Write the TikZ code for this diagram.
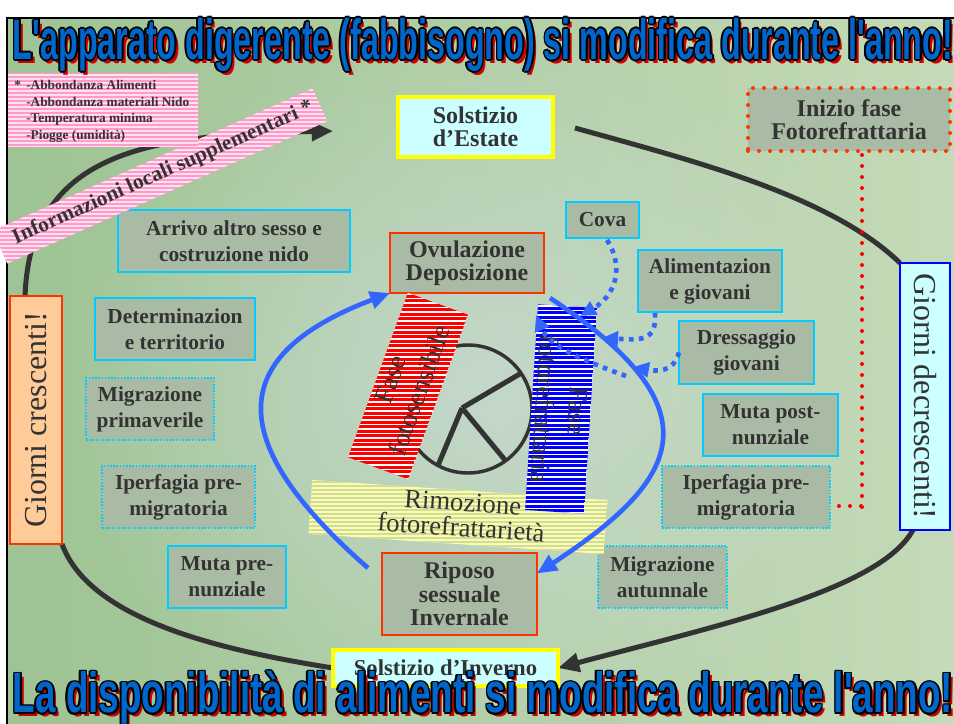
\documentclass[tikz,border=0pt]{standalone}
\usepackage{fontspec}
\setmainfont{Liberation Serif}
\newfontfamily\titlefont{Liberation Sans}
\usetikzlibrary{arrows.meta,calc,fadings}
\pgfdeclarelayer{bglayer}
\pgfdeclarelayer{arclayer}
\pgfsetlayers{bglayer,arclayer,main}
\definecolor{txt}{RGB}{51,51,51}
\definecolor{gfill}{RGB}{170,187,165}
\definecolor{cyb}{RGB}{0,204,255}
\definecolor{orr}{RGB}{255,51,0}
\definecolor{arcblue}{RGB}{51,102,255}
\definecolor{ttlblue}{RGB}{0,102,204}
\definecolor{ttlred}{RGB}{204,0,0}
\definecolor{lcyan}{RGB}{204,255,255}
\definecolor{peach}{RGB}{255,204,153}
\definecolor{pinkc}{RGB}{255,153,204}
\definecolor{pinkl}{RGB}{255,225,240}
\definecolor{yelc}{RGB}{255,255,153}
\definecolor{yelline}{RGB}{205,218,175}
\definecolor{yel}{RGB}{255,255,0}
\definecolor{bgA}{RGB}{158,195,148}
\definecolor{bgB}{RGB}{196,218,184}
\definecolor{bgC}{RGB}{204,220,218}
\tikzfading[name=fuzz, inner color=transparent!30, outer color=transparent!100]
\newcommand\outlinedtitle[4]{%
  \node[ttl,text=ttlred] (#1sh) at (#2+3.5,#3+3.5) {#4};
  \foreach \dx/\dy [count=\k] in {-1.8/0,1.8/0,0/-1.8,0/1.8,-1.3/-1.3,1.3/1.3,-1.3/1.3,1.3/-1.3}
    {\node[ttl,text=black] (#1o\k) at (#2+\dx,#3+\dy) {#4};}
  \node[ttl,text=ttlblue] (#1) at (#2,#3) {#4};}
% striped shape: #1 fill colour, #2 stripe colour, #3 path, #4 x start, #5 list of y
\newcommand\stripefill[5]{%
  \begin{scope}
    \clip #3;
    \fill[#1] #3;
    \foreach \yy in {#5} {\draw[#2,line width=0.9pt] (#4,\yy) -- ++(420,0);}
  \end{scope}}
\begin{document}
\begin{tikzpicture}[x=0.75pt,y=-0.75pt,
 sz/.style 2 args={minimum width={#1*0.75pt},minimum height={#2*0.75pt}},
 gbox/.style={draw=cyb,line width=1.5pt,fill=gfill,text=txt,font=\bfseries\fontsize{16}{19.5}\selectfont,align=center,inner sep=0pt,outer sep=0pt},
 gdot/.style={gbox,line width=0.9pt,dash pattern=on 1.2pt off 1.2pt},
 rbox/.style={gbox,draw=orr,line width=2.2pt,font=\bfseries\fontsize{18}{17.5}\selectfont},
 solbox/.style={gbox,draw=yel,line width=2.5pt,fill=lcyan,font=\bfseries\fontsize{18}{17.5}\selectfont},
 inbox/.style={gbox,draw=orr,line width=3pt,dash pattern=on 0pt off 8.25pt,line cap=round,font=\bfseries\fontsize{18}{17.5}\selectfont},
 rottxt/.style={text=txt,font=\fontsize{24}{24}\selectfont,inner sep=0pt},
 phtxt/.style={text=txt,font=\fontsize{20}{23}\selectfont,align=center,inner sep=0pt},
 blackarc/.style={draw=txt,line width=3.75pt},
 bigtip/.style={-{Triangle[length=16pt,width=14pt]}},
 bluearc/.style={draw=arcblue,line width=3.5pt,-{Triangle[length=15pt,width=13pt]}},
 bluedot/.style={draw=arcblue,line width=3.5pt,dash pattern=on 3.5pt off 4pt,-{Triangle[length=12pt,width=11pt]}},
 reddot/.style={draw=red,line width=3pt,dash pattern=on 0pt off 8.25pt,line cap=round},
 ttl/.style={inner sep=0pt,font=\titlefont\bfseries}
]
\useasboundingbox (0,0) rectangle (954,724);
\begin{pgfonlayer}{bglayer}
\fill[white] (0,0) rectangle (954,724);
\shade[left color=bgA,right color=bgB] (7,18) rectangle (954,724);
\fill[bgC,path fading=fuzz] (60,20) rectangle (900,760);
\draw[black,line width=2.2pt] (7,724) -- (7,18) -- (954,18);
\end{pgfonlayer}

% ---------- boxes ----------
\node[solbox,sz={155}{60}] (solE) at (475.5,127) {Solstizio\\d’Estate};
\node[solbox,sz={225}{36},font=\bfseries\fontsize{17}{17}\selectfont] (solI) at (445.5,668) {Solstizio d’Inverno};
\node[inbox,sz={202}{63}] (inizio) at (849,119.5) {Inizio fase\\Fotorefrattaria};
\node[draw=blue,line width=2.2pt,fill=lcyan,sz={50}{267},outer sep=0pt] (giorniD) at (925,396.5) {};
\node[rottxt,rotate=-90] (giorniDt) at (giorniD) {Giorni decrescenti!};
\node[draw=orr,line width=2.2pt,fill=peach,sz={52}{248},outer sep=0pt] (giorniC) at (36,420) {};
\node[rottxt,rotate=90] (giorniCt) at (giorniC) {Giorni crescenti!};

\node[gbox,sz={232}{62}] (arrivo) at (234,241) {Arrivo altro sesso e\\costruzione nido};
\node[gbox,sz={160}{62}] (determ) at (175,329) {Determinazion\\e territorio};
\node[gdot,sz={128}{62}] (migprim) at (150,409) {Migrazione\\primaverile};
\node[gdot,sz={153}{62}] (iperL) at (178.5,497) {Iperfagia pre-\\migratoria};
\node[gbox,sz={118}{62}] (mutapre) at (227,577) {Muta pre-\\nunziale};
\node[gbox,sz={73}{36}] (cova) at (602.5,220) {Cova};
\node[gbox,sz={144}{62}] (alim) at (710,281) {Alimentazion\\e giovani};
\node[gbox,sz={135}{63}] (dress) at (746.5,352.5) {Dressaggio\\giovani};
\node[gbox,sz={135}{62}] (mutapost) at (770.5,425) {Muta post-\\nunziale};
\node[gdot,sz={168}{62}] (iperR) at (746,497) {Iperfagia pre-\\migratoria};
\node[gdot,sz={129}{62}] (migaut) at (662.5,577) {Migrazione\\autunnale};
\node[rbox,sz={154}{60}] (ovul) at (467,263) {Ovulazione\\Deposizione};
\node[rbox,sz={155}{82}] (riposo) at (459.5,594) {Riposo\\sessuale\\Invernale};

% ---------- pink information ----------
\stripefill{pinkc}{pinkl}{(312.6,88.4) -- (327.2,121.2) -- (7.4,263.6) -- (-7.2,230.8) -- cycle}{-10}{86,90,...,266}
\node[rotate=24,text=txt,font=\bfseries\fontsize{16}{16}\selectfont,inner sep=0pt] (bandt) at (163,173) {Informazioni locali supplementari *};
\stripefill{pinkc}{pinkl}{(8,73) rectangle (198,147)}{0}{75,79,...,147}
\node[anchor=north west,align=left,text=txt,font=\bfseries\fontsize{10}{12.4}\selectfont,inner sep=0pt] (pinkt) at (14,80)
 {\makebox[9pt][l]{*}-Abbondanza Alimenti\\\hspace*{9pt}-Abbondanza materiali Nido\\\hspace*{9pt}-Temperatura minima\\\hspace*{9pt}-Piogge (umidità)};

% ---------- clock ----------
\node[circle,draw=txt,line width=2.6pt,minimum size={128*0.75pt},inner sep=0pt,outer sep=0pt] (clock) at (468,409) {};
\coordinate (hub) at (462,408);
\draw[txt,line width=3.8pt] (hub) -- (clock.34);
\draw[txt,line width=3.8pt] (hub) -- (clock.242);
\draw[txt,line width=3.8pt] (hub) -- (clock.306);

% ---------- striped phases ----------
\stripefill{yelc}{yelline}{(312.2,480.0) -- (607.5,500.1) -- (603.8,554.0) -- (308.5,533.9) -- cycle}{300}{482,486,...,556}
\node[phtxt,rotate=-3.9,font=\fontsize{20}{19}\selectfont] (ybandt) at (462,515) {Rimozione\\fotorefrattarietà};
\stripefill{red}{white}{(407.85,292.8) -- (468.0,314.7) -- (408.15,479.2) -- (348.0,457.3) -- cycle}{340}{294,298.5,...,482}
\node[phtxt,rotate=70] (redbt) at (405,385) {Fase\\fotosensibile};
\stripefill{blue}{white}{(538.0,304.35) -- (596.9,308.05) -- (584.0,513.65) -- (525.1,509.95) -- cycle}{520}{306,310.5,...,516}
\node[phtxt,rotate=-93.6,font=\fontsize{20}{25}\selectfont] (bluebt) at (561,410) {Fase\\fotorefrattaria};

% ---------- blue cycle arcs ----------
\coordinate (la0) at (368,568);
\draw[bluearc] (la0) .. controls (210,430) and (240,350) .. (ovul.south west);
\coordinate (ra0) at (550,298);
\coordinate (ra1) at ($(riposo.north east)!0.25!(riposo.south east)$);
\draw[bluearc] (ra0) .. controls (720,410) and (680,480) .. (ra1);

% ---------- dotted blue arrows ----------
\coordinate (c0) at (607,240);
\coordinate (c1) at (580,316);
\draw[bluedot] (c0) .. controls (625,268) and (615,296) .. (c1);
\coordinate (a0) at (655,313);
\coordinate (a1) at (602,338);
\draw[bluedot] (a0) .. controls (657,342) and (640,340) .. (a1);
\coordinate (d1) at (633,367);
\draw[bluedot] (dress.west) .. controls (673,374) and (655,371) .. (d1);
\coordinate (f0) at (626,376);
\coordinate (f1) at (536,315);
\draw[bluedot] (f0) .. controls (582,360) and (549,346) .. (f1);

% ---------- red dotted link ----------
\coordinate (rd0) at (862,155);
\coordinate (rd1) at (862,512);
\coordinate (rd2) at (839,506);
\coordinate (rd3) at (862,506);
\draw[reddot] (rd0) -- (rd1);
\draw[reddot] (rd2) -- (rd3);

% ---------- black year cycle ----------
\begin{pgfonlayer}{arclayer}
\coordinate (tl0) at (25,297);
\coordinate (tl1) at (333,131);
\draw[blackarc,bigtip] (tl0) .. controls (30,150) and (150,135) .. (tl1);
\coordinate (tr0) at (575,128);
\draw[blackarc] (tr0) .. controls (690,160) and (830,195) .. (giorniD.north west);
\draw[blackarc] (giorniC.south east) .. controls (90,620) and (220,650) .. (solI.west);
\coordinate (br0) at ($(giorniD.south)+(-12,0)$);
\draw[blackarc,bigtip] (br0) .. controls (880,590) and (720,625) .. (solI.east);
\end{pgfonlayer}

% ---------- titles ----------
\outlinedtitle{ttop}{483}{45}{\resizebox*{705pt}{40pt}{L'apparato digerente (fabbisogno) si modifica durante l'anno!}}
\outlinedtitle{tbot}{483}{698}{\resizebox*{705pt}{40pt}{La disponibilità di alimenti si modifica durante l'anno!}}
\end{tikzpicture}
\end{document}
